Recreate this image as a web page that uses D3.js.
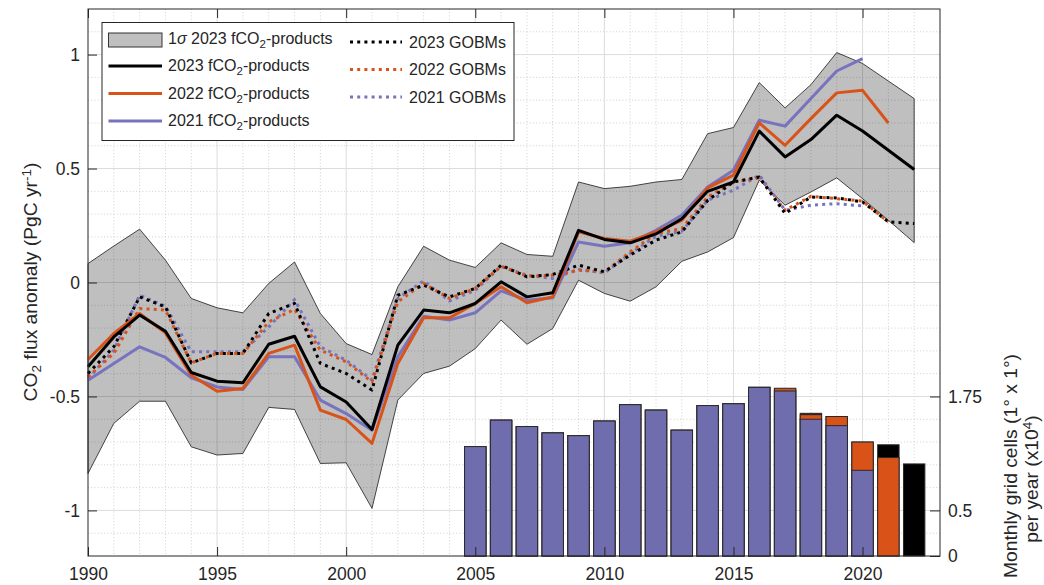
<!DOCTYPE html>
<html>
<head>
<meta charset="utf-8">
<script src="https://cdn.jsdelivr.net/npm/d3@7"></script>
<style>
  html, body { margin: 0; padding: 0; background: #fff; }
  svg { display: block; font-family: "Liberation Sans", Arial, Helvetica, sans-serif; }
</style>
</head>
<body>
<svg id="chart" width="1044" height="585"></svg>
<script>
// Annual sea-air CO2 flux anomalies (PgC/yr), 1990-2022
const years = d3.range(1990, 2023);

const sigmaUpper = [0.083, 0.16, 0.234, 0.098, -0.070, -0.111, -0.133, -0.004, 0.090, -0.136,
  -0.268, -0.316, -0.019, 0.159, 0.098, 0.066, 0.174, 0.123, 0.115, 0.441,
  0.412, 0.422, 0.441, 0.452, 0.653, 0.680, 0.877, 0.766, 0.868, 1.009,
  0.961, 0.884, 0.807];
const sigmaLower = [-0.838, -0.618, -0.521, -0.521, -0.721, -0.757, -0.750, -0.548, -0.557, -0.794,
  -0.791, -0.991, -0.516, -0.399, -0.367, -0.290, -0.165, -0.271, -0.202, 0.010,
  -0.048, -0.082, -0.019, 0.093, 0.134, 0.197, 0.449, 0.339, 0.397, 0.459,
  0.368, 0.273, 0.175];

const fco2Products2023 = [-0.370, -0.239, -0.143, -0.214, -0.395, -0.433, -0.440, -0.271, -0.236, -0.458,
  -0.524, -0.645, -0.275, -0.121, -0.133, -0.092, 0.003, -0.063, -0.045, 0.229,
  0.189, 0.174, 0.213, 0.280, 0.400, 0.441, 0.664, 0.551, 0.627, 0.734,
  0.665, 0.580, 0.496];
const fco2Products2022 = [-0.338, -0.224, -0.136, -0.221, -0.407, -0.477, -0.465, -0.311, -0.275, -0.560,
  -0.601, -0.706, -0.355, -0.155, -0.155, -0.092, -0.019, -0.089, -0.063, 0.222,
  0.193, 0.181, 0.222, 0.273, 0.415, 0.471, 0.700, 0.602, 0.719, 0.832,
  0.843, 0.700];
const fco2Products2021 = [-0.429, -0.355, -0.282, -0.329, -0.418, -0.458, -0.469, -0.326, -0.326, -0.516,
  -0.575, -0.648, -0.326, -0.148, -0.165, -0.133, -0.037, -0.078, -0.067, 0.178,
  0.159, 0.174, 0.229, 0.295, 0.419, 0.493, 0.712, 0.686, 0.807, 0.928,
  0.982];

const gobms2023 = [-0.399, -0.282, -0.063, -0.107, -0.353, -0.311, -0.311, -0.136, -0.092, -0.355,
  -0.399, -0.472, -0.056, -0.012, -0.063, -0.026, 0.076, 0.025, 0.035, 0.076,
  0.047, 0.120, 0.186, 0.222, 0.360, 0.441, 0.463, 0.303, 0.375, 0.371,
  0.354, 0.266, 0.259];
const gobms2022 = [-0.414, -0.311, -0.114, -0.121, -0.353, -0.311, -0.311, -0.173, -0.118, -0.297,
  -0.348, -0.436, -0.085, -0.004, -0.070, -0.026, 0.071, 0.028, 0.032, 0.054,
  0.047, 0.134, 0.215, 0.237, 0.375, 0.441, 0.459, 0.317, 0.378, 0.368,
  0.357, 0.266];
const gobms2021 = [-0.421, -0.297, -0.056, -0.104, -0.304, -0.304, -0.304, -0.195, -0.075, -0.282,
  -0.341, -0.428, -0.070, 0.007, -0.081, -0.034, 0.071, 0.032, 0.018, 0.057,
  0.042, 0.127, 0.203, 0.225, 0.361, 0.405, 0.471, 0.317, 0.339, 0.346,
  0.336];

// Monthly 1°x1° grid cells with observations per year (x10^4), 2005-2022
const barYears = d3.range(2005, 2023);
const cells2021 = [1.20, 1.49, 1.42, 1.35, 1.32, 1.48, 1.66, 1.60, 1.38, 1.65, 1.67, 1.85, 1.81, 1.50, 1.43, 0.94];
const cells2022 = [1.20, 1.49, 1.42, 1.35, 1.32, 1.48, 1.66, 1.60, 1.38, 1.65, 1.67, 1.85, 1.84, 1.55, 1.53, 1.25, 1.08];
const cells2023 = [1.20, 1.49, 1.42, 1.35, 1.32, 1.48, 1.66, 1.60, 1.38, 1.65, 1.67, 1.85, 1.83, 1.565, 1.53, 1.25, 1.22, 1.01];

// Tick labels
const xTicks = [1990, 1995, 2000, 2005, 2010, 2015, 2020];
const yTicks = [-1, -0.5, 0, 0.5, 1];
const yRightTicks = [0, 0.5, 1.75];

// ---- layout ----
const plot = { left: 88, right: 940, top: 9, bottom: 556 };
const COL = { black: "#000000", orange: "#d95319", purple: "#7773bf", purpleBar: "#706dae", text: "#262626" };

const svg = d3.select("#chart");
const x = d3.scaleLinear().domain([1990, 2023]).range([plot.left, plot.right]);
const y = d3.scaleLinear().domain([-1.2, 1.2]).range([plot.bottom, plot.top]);
const yR = d3.scaleLinear().domain([0, 6]).range([plot.bottom, plot.top]);

// ---- grid ----
const grid = svg.append("g");
const minorX = d3.range(1991, 2023).filter(v => v % 5 !== 0);
const minorY = d3.range(-11, 12).filter(v => v % 5 !== 0).map(v => v / 10);
grid.selectAll(".mx").data(minorX).join("line")
  .attr("x1", d => x(d)).attr("x2", d => x(d)).attr("y1", plot.top).attr("y2", plot.bottom)
  .attr("stroke", "#c4c4c4").attr("stroke-width", 0.8).attr("stroke-dasharray", "1,2.2");
grid.selectAll(".my").data(minorY).join("line")
  .attr("x1", plot.left).attr("x2", plot.right).attr("y1", d => y(d)).attr("y2", d => y(d))
  .attr("stroke", "#c4c4c4").attr("stroke-width", 0.8).attr("stroke-dasharray", "1,2.2");
grid.selectAll(".Mx").data(xTicks.slice(1)).join("line")
  .attr("x1", d => x(d)).attr("x2", d => x(d)).attr("y1", plot.top).attr("y2", plot.bottom)
  .attr("stroke", "#dcdcdc").attr("stroke-width", 1);
grid.selectAll(".My").data(yTicks).join("line")
  .attr("x1", plot.left).attr("x2", plot.right).attr("y1", d => y(d)).attr("y2", d => y(d))
  .attr("stroke", "#dcdcdc").attr("stroke-width", 1);

// ---- 1-sigma band ----
const area = d3.area().x((d, i) => x(years[i])).y0((d, i) => y(sigmaLower[i])).y1(d => y(d));
svg.append("path").datum(sigmaUpper).attr("d", area)
  .attr("fill", "#000").attr("fill-opacity", 0.25)
  .attr("stroke", "#1a1a1a").attr("stroke-width", 0.8).attr("stroke-linejoin", "round");

// ---- lines ----
const line = d3.line().x((d, i) => x(years[i])).y(d => y(d));
const DOT = "3,4.2";
const series = [
  { data: gobms2021, color: COL.purple, dash: DOT },
  { data: gobms2022, color: COL.orange, dash: DOT },
  { data: gobms2023, color: COL.black, dash: DOT },
  { data: fco2Products2021, color: COL.purple, dash: null },
  { data: fco2Products2022, color: COL.orange, dash: null },
  { data: fco2Products2023, color: COL.black, dash: null }
];
svg.append("g").selectAll("path").data(series).join("path")
  .attr("d", d => line(d.data))
  .attr("fill", "none").attr("stroke", d => d.color).attr("stroke-width", 3)
  .attr("stroke-linejoin", "round")
  .attr("stroke-dasharray", d => d.dash);

// ---- grid-cell bars (right axis) ----
const barW = 21.4;
const bars = svg.append("g");
[[cells2023, COL.black], [cells2022, COL.orange], [cells2021, COL.purpleBar]].forEach(([vals, c]) => {
  bars.append("g").selectAll("rect").data(vals).join("rect")
    .attr("x", (d, i) => x(barYears[i]) - barW / 2)
    .attr("width", barW)
    .attr("y", d => yR(d))
    .attr("height", d => yR(0) - yR(d))
    .attr("fill", c).attr("stroke", "#2a2a2a").attr("stroke-width", 1);
});

// ---- axes ----
const fs = "17.5px";
const titleFs = "19.25px";
const scriptFs = "13.5px";
const styleAxis = g => {
  g.select(".domain").remove();
  g.selectAll(".tick line").attr("stroke", COL.text).attr("stroke-width", 1);
  g.selectAll(".tick text").attr("fill", COL.text).style("font-size", fs)
    .style("font-family", '"Liberation Sans", Arial, Helvetica, sans-serif');
};
svg.append("g").attr("transform", `translate(0,${plot.bottom})`)
  .call(d3.axisBottom(x).tickValues(xTicks).tickFormat(d3.format("d")).tickSize(-9).tickSizeOuter(0).tickPadding(11.5))
  .call(styleAxis);
svg.append("g").attr("transform", `translate(0,${plot.top})`)
  .call(d3.axisTop(x).tickValues(xTicks).tickFormat("").tickSize(-9).tickSizeOuter(0))
  .call(styleAxis);
svg.append("g").attr("transform", `translate(${plot.left},0)`)
  .call(d3.axisLeft(y).tickValues(yTicks).tickFormat(d => String(d)).tickSize(-9).tickSizeOuter(0).tickPadding(8))
  .call(styleAxis);
svg.append("g").attr("transform", `translate(${plot.right},0)`)
  .call(d3.axisRight(yR).tickValues(yRightTicks).tickFormat(d => String(d)).tickSize(-10).tickSizeOuter(0).tickPadding(8))
  .call(styleAxis);

// axes box
svg.append("rect").attr("x", plot.left).attr("y", plot.top)
  .attr("width", plot.right - plot.left).attr("height", plot.bottom - plot.top)
  .attr("fill", "none").attr("stroke", COL.text).attr("stroke-width", 1);

// ---- axis titles ----
const yTitle = svg.append("text")
  .attr("transform", "translate(37,282) rotate(-90)")
  .attr("text-anchor", "middle").attr("fill", COL.text).style("font-size", titleFs);
yTitle.append("tspan").text("CO");
yTitle.append("tspan").text("2").style("font-size", scriptFs).attr("baseline-shift", "-30%");
yTitle.append("tspan").text(" flux anomaly (PgC yr");
yTitle.append("tspan").text("-1").style("font-size", scriptFs).attr("baseline-shift", "45%");
yTitle.append("tspan").text(")");

svg.append("text").attr("transform", "translate(1017,466) rotate(-90)")
  .attr("text-anchor", "middle").attr("fill", COL.text).style("font-size", titleFs)
  .text("Monthly grid cells (1\u00b0 x 1\u00b0)");
const r2 = svg.append("text").attr("transform", "translate(1038,479) rotate(-90)")
  .attr("text-anchor", "middle").attr("fill", COL.text).style("font-size", titleFs);
r2.append("tspan").text("per year (x10");
r2.append("tspan").text("4").style("font-size", scriptFs).attr("baseline-shift", "45%");
r2.append("tspan").text(")");

// ---- legend ----
const lg = svg.append("g");
lg.append("rect").attr("x", 102).attr("y", 22.5).attr("width", 412).attr("height", 118)
  .attr("fill", "#fff").attr("stroke", COL.text).attr("stroke-width", 1);
const lfs = "16px";
function legendText(xp, yp, parts) {
  const t = lg.append("text").attr("x", xp).attr("y", yp).attr("fill", COL.text).style("font-size", lfs);
  parts.forEach(p => {
    const s = t.append("tspan").text(p.t);
    if (p.sub) s.style("font-size", "11.5px").attr("baseline-shift", "-30%");
    if (p.it) s.style("font-style", "italic");
  });
}
const fco2Label = yr => [{ t: yr + " fCO" }, { t: "2", sub: true }, { t: "-products" }];
// band swatch
lg.append("rect").attr("x", 108.5).attr("y", 33).attr("width", 53.5).attr("height", 14)
  .attr("fill", "#bfbfbf").attr("stroke", "#333").attr("stroke-width", 1);
legendText(168, 44, [{ t: "1" }, { t: "\u03c3", it: true }, { t: " 2023 fCO" }, { t: "2", sub: true }, { t: "-products" }]);
const leftItems = [
  { label: "2023", color: COL.black, yy: 71 },
  { label: "2022", color: COL.orange, yy: 98.5 },
  { label: "2021", color: COL.purple, yy: 126 }
];
leftItems.forEach(it => {
  lg.append("line").attr("x1", 108.5).attr("x2", 162).attr("y1", it.yy - 5).attr("y2", it.yy - 5)
    .attr("stroke", it.color).attr("stroke-width", 3);
  legendText(168, it.yy, fco2Label(it.label));
});
const rightItems = [
  { label: "2023 GOBMs", color: COL.black, yy: 47.5 },
  { label: "2022 GOBMs", color: COL.orange, yy: 75 },
  { label: "2021 GOBMs", color: COL.purple, yy: 102.5 }
];
rightItems.forEach(it => {
  lg.append("line").attr("x1", 350).attr("x2", 402).attr("y1", it.yy - 5.5).attr("y2", it.yy - 5.5)
    .attr("stroke", it.color).attr("stroke-width", 3).attr("stroke-dasharray", DOT);
  legendText(409, it.yy, [{ t: it.label }]);
});
</script>
</body>
</html>
